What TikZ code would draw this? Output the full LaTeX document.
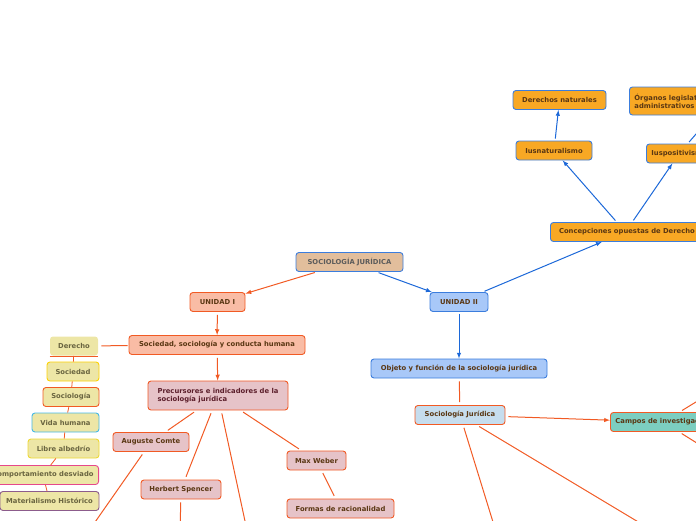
\documentclass[tikz,border=0pt]{standalone}
\usepackage{fontspec}
\setmainfont{DejaVu Sans}
\usetikzlibrary{calc}

\definecolor{linered}{HTML}{F15A24}
\definecolor{lineblue}{HTML}{1C68D8}
\definecolor{bordblue}{HTML}{3B7DDD}
\definecolor{tanfill}{HTML}{E2BE9C}
\definecolor{bluefill}{HTML}{A8C8F8}
\definecolor{salmonfill}{HTML}{F9BCA5}
\definecolor{pinkfill}{HTML}{E6C3C8}
\definecolor{orangefill}{HTML}{F8A824}
\definecolor{khakifill}{HTML}{EDE6A6}
\definecolor{sjfill}{HTML}{C6DDEE}
\definecolor{tealfill}{HTML}{7CCEC0}
\definecolor{txtbrown}{HTML}{5A3713}
\definecolor{txtmaroon}{HTML}{5C1F2B}
\definecolor{txtolive}{HTML}{6A6540}
\definecolor{txtgray}{HTML}{5B5B5B}

\begin{document}
\begin{tikzpicture}[x=1pt,y=-1pt,
	box/.style={rounded corners=3pt,line width=0.9pt,text=txtbrown,minimum height=19pt,inner xsep=5pt,inner ysep=2pt,
		font=\fontsize{6.8}{8}\selectfont\bfseries},
	bluebox/.style={box,draw=bordblue,fill=bluefill},
	orangebox/.style={box,draw=bordblue,fill=orangefill},
	salmonbox/.style={box,draw=linered,fill=salmonfill},
	pinkbox/.style={box,draw=linered,fill=pinkfill},
	chainbox/.style={box,fill=khakifill,text=txtolive},
	redline/.style={line width=1pt,linered},
	blueline/.style={line width=1pt,lineblue},
	]
	
	\useasboundingbox (0,0) rectangle (696,520);
	\clip (0,0) rectangle (696,520);
	
	% centre
	\node[box,draw=bordblue,fill=tanfill,text=txtgray,minimum width=107pt] (socjur) at (349.5,262) {SOCIOLOGÍA JURÍDICA};
	\node[bluebox,minimum width=58pt] (unidadII) at (459,302) {UNIDAD II};
	\node[salmonbox,minimum width=55pt] (unidadI) at (217.5,302) {UNIDAD I};
	
	% unidad II
	\node[orangebox,minimum width=150pt,anchor=west] (concep) at (550,232) {\hspace{3pt}Concepciones opuestas de Derecho\hspace{10pt}};
	\node[orangebox,minimum width=76pt] (iusnat) at (554,150.5) {Iusnaturalismo};
	\node[orangebox,minimum width=93pt] (dernat) at (559.5,100) {Derechos naturales};
	\node[orangebox,anchor=west,minimum height=28pt,align=left] (organos) at (629,101) {Órganos legislativos y\\administrativos};
	\node[orangebox,anchor=west] (iuspos) at (646,153.5) {Iuspositivismo\hspace{18pt}};
	\coordinate (iusposout) at (760,60);
	
	\node[bluebox,minimum width=176pt] (objeto) at (459,368.5) {Objeto y función de la sociología jurídica};
	\node[box,draw=linered,fill=sjfill,minimum width=90pt] (sjuri) at (460,415) {Sociología Jurídica};
	\node[box,draw=linered,fill=tealfill,anchor=west] (campos) at (610,422) {Campos de investigación};
	\coordinate (camposup) at (740,375);
	\coordinate (camposdown) at (740,470);
	\coordinate (sjdownA) at (497,535);
	\coordinate (sjdownB) at (660,535);
	
	% unidad I
	\node[salmonbox,minimum width=176pt] (sociedadsoc) at (217,345) {Sociedad, sociología y conducta humana};
	\node[pinkbox,text=txtmaroon,minimum width=140pt,minimum height=29pt,align=left] (precur) at (218,395.5) {Precursores e indicadores de la\\sociología jurídica};
	\node[pinkbox,minimum width=76pt] (comte) at (151,442) {Auguste Comte};
	\node[pinkbox,minimum width=80pt] (spencer) at (181,489.5) {Herbert Spencer};
	\node[pinkbox,minimum width=59pt] (weber) at (316.5,460.5) {Max Weber};
	\node[pinkbox,minimum width=107pt] (formas) at (340.5,508.5) {Formas de racionalidad};
	\coordinate (comteout) at (86,535);
	\coordinate (spencerout) at (180,535);
	\coordinate (precurout) at (248,535);
	
	\node[chainbox,minimum width=48pt] (derecho) at (74,346) {Derecho};
	\node[chainbox,draw=yellow!70!orange,minimum width=52pt] (sociedad) at (73,371.5) {Sociedad};
	\node[chainbox,draw=linered,minimum width=56pt] (sociologia) at (71,397) {Sociología};
	\node[chainbox,draw={rgb,255:red,69;green,184;blue,230},minimum width=67pt] (vida) at (65.5,422.5) {Vida humana};
	\node[chainbox,draw={rgb,255:red,237;green,216;blue,53},minimum width=71pt] (libre) at (63.5,448.5) {Libre albedrío};
	\node[chainbox,draw={rgb,255:red,230;green,72;blue,138},anchor=east] (comport) at (99,475) {Comportamiento desviado};
	\node[chainbox,draw={rgb,255:red,140;green,92;blue,140},minimum width=99pt] (materia) at (49.5,501) {Materialismo Histórico};
	\draw[redline,line width=0.8pt] (derecho.south west) -- (derecho.south east);
	
	% connectors
	\draw[redline,-latex,shorten <=2pt] (socjur) -- (unidadI);
	\draw[blueline,-latex,shorten <=2pt] (socjur) -- (unidadII);
	\draw[blueline,-latex,shorten <=2pt] (unidadII) -- (concep);
	\draw[blueline,-latex,shorten <=2pt] (concep) -- (iusnat);
	\draw[blueline,-latex,shorten <=2pt] (concep) -- (iuspos);
	\draw[blueline,-latex,shorten <=2pt] (iusnat) -- (dernat);
	\draw[blueline,-latex,shorten <=2pt] (iuspos) -- (iusposout);
	\draw[blueline,-latex,shorten <=2pt] (unidadII) -- (objeto);
	\draw[redline,shorten <=3pt,shorten >=3pt] (objeto) -- (sjuri);
	\draw[redline,-latex,shorten <=3pt] (sjuri) -- (campos);
	\draw[redline,shorten <=3pt] (sjuri) -- (sjdownA);
	\draw[redline,shorten <=3pt] (sjuri) -- (sjdownB);
	\draw[redline,shorten <=3pt] (campos) -- (camposup);
	\draw[redline,shorten <=3pt] (campos) -- (camposdown);
	
	\draw[redline,-latex,shorten <=3pt] (unidadI) -- (sociedadsoc);
	\draw[redline,-latex,shorten <=3pt] (sociedadsoc) -- (precur);
	\draw[redline,shorten <=1pt,shorten >=3pt] (sociedadsoc) -- (derecho);
	\draw[redline,shorten <=3pt,shorten >=3pt] (precur) -- (comte);
	\draw[redline,shorten <=3pt,shorten >=3pt] (precur) -- (spencer);
	\draw[redline,shorten <=3pt] (precur) -- (precurout);
	\draw[redline,shorten <=3pt,shorten >=3pt] (precur) -- (weber);
	\draw[redline,shorten <=3pt] (comte) -- (comteout);
	\draw[redline,shorten <=3pt] (spencer) -- (spencerout);
	\draw[redline,shorten <=3pt,shorten >=3pt] (weber) -- (formas);
	
	\draw[redline,line width=0.8pt] (derecho) -- (sociedad);
	\draw[redline,line width=0.8pt] (sociedad) -- (sociologia);
	\draw[redline,line width=0.8pt] (sociologia) -- (vida);
	\draw[redline,line width=0.8pt] (vida) -- (libre);
	\draw[redline,line width=0.8pt] (libre) -- (comport);
	\draw[redline,line width=0.8pt] (comport) -- (materia);
	
\end{tikzpicture}
\end{document}
